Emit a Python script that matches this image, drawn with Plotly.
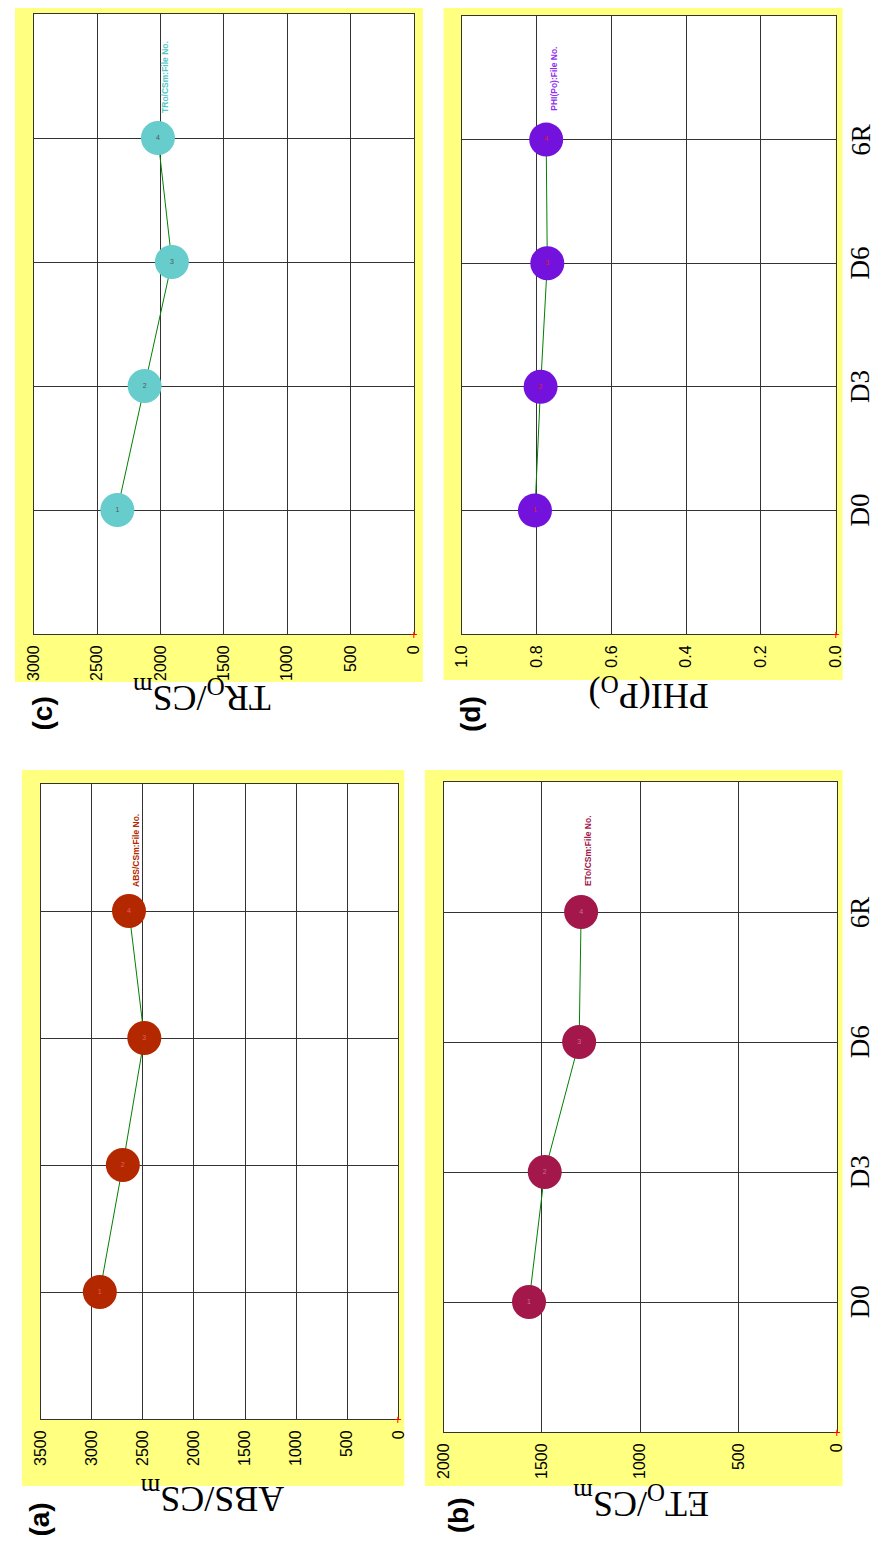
import plotly.graph_objects as go

# The page body has an 8px margin, so the figure is sized to fit inside it
OFF = 8
W, H = 886 - 2 * OFF, 1545 - 2 * OFF

# ---------------- data ----------------
categories = ["D0", "D3", "D6", "6R"]
file_no = ["1", "2", "3", "4"]

abs_csm = [2920, 2695, 2485, 2635]
eto_csm = [1565, 1485, 1310, 1300]
tro_csm = [2340, 2125, 1910, 2020]
phi_po = [0.805, 0.790, 0.772, 0.775]

abs_ticks = [0, 500, 1000, 1500, 2000, 2500, 3000, 3500]
eto_ticks = [0, 500, 1000, 1500, 2000]
tro_ticks = [0, 500, 1000, 1500, 2000, 2500, 3000]
phi_ticks = [0.0, 0.2, 0.4, 0.6, 0.8, 1.0]


def px(x):
    return (x - OFF) / W


def py(y):
    return 1 - (y - OFF) / H


SERIF = "Liberation Serif, Times New Roman, serif"
SANS = "Liberation Sans, Arial, sans-serif"

panels = [
    dict(key="a", vals=abs_csm, ticks=abs_ticks, vmax=3500, fmt="",
         color="#B42800", lcolor="#B42800", tcolor="#E06060",
         slabel="ABS/CSm:File No.", title="ABS/CS<sub>m</sub>",
         plot=(32, 397, 784, 1419), yellow=(13, 403, 770, 1486),
         title_pos=(207, 1497), letter_pos=(30, 1520), catlabels=False),
    dict(key="b", vals=eto_csm, ticks=eto_ticks, vmax=2000, fmt="",
         color="#A3174B", lcolor="#A3174B", tcolor="#D07090",
         slabel="ETo/CSm:File No.", title="ET<sub>O</sub>/CS<sub>m</sub>",
         plot=(443, 844, 782, 1432), yellow=(424, 850, 770, 1486),
         title_pos=(645, 1502), letter_pos=(458, 1515), catlabels=True),
    dict(key="c", vals=tro_csm, ticks=tro_ticks, vmax=3000, fmt="",
         color="#66CCCC", lcolor="#55C8C8", tcolor="#555555",
         slabel="TRo/CSm:File No.", title="TR<sub>O</sub>/CS<sub>m</sub>",
         plot=(25, 413, 14, 634), yellow=(6, 422, 0, 682),
         title_pos=(196, 695), letter_pos=(33, 714), catlabels=False),
    dict(key="d", vals=phi_po, ticks=phi_ticks, vmax=1.0, fmt=".1f",
         color="#7312DD", lcolor="#9030F0", tcolor="#E02020",
         slabel="PHI(Po):File No.", title="PHI(P<sub>O</sub>)",
         plot=(462, 843, 16, 634), yellow=(443, 850, 3, 680),
         title_pos=(652, 693), letter_pos=(470, 714), catlabels=True),
]

fig = go.Figure()
shapes = []
annotations = []

for i, p in enumerate(panels, start=1):
    sfx = "" if i == 1 else str(i)
    xa = f"x{sfx}"
    ya = f"y{sfx}"
    x0, x1, y0, y1 = p["plot"]

    fig.add_trace(go.Scatter(
        x=p["vals"], y=categories, xaxis=xa, yaxis=ya,
        mode="lines+markers+text",
        line=dict(color="#008000", width=1),
        marker=dict(color=p["color"], size=34, line=dict(width=0)),
        text=file_no, textposition="middle center",
        textfont=dict(size=7, color=p["tcolor"], family=SANS),
        showlegend=False, cliponaxis=False, hoverinfo="skip",
    ))

    fig.layout[f"xaxis{sfx}"] = dict(
        domain=[px(x0), px(x1)], anchor=ya,
        range=[p["vmax"], 0], tickvals=p["ticks"], tickformat=p["fmt"],
        tickangle=-90, tickfont=dict(family=SANS, size=16, color="black"),
        ticks="", ticklabelstandoff=4,
        showgrid=True, gridcolor="#333333", gridwidth=1,
        showline=True, mirror=True, linecolor="#333333", linewidth=1,
        zeroline=False, fixedrange=True,
    )
    fig.layout[f"yaxis{sfx}"] = dict(
        domain=[py(y1), py(y0)], anchor=xa,
        type="category", categoryarray=categories, categoryorder="array",
        range=[-1, 4], showticklabels=False, ticks="",
        showgrid=True, gridcolor="#333333", gridwidth=1,
        showline=True, mirror=True, linecolor="#333333", linewidth=1,
        zeroline=False, fixedrange=True,
    )

    yx0, yx1, yy0, yy1 = p["yellow"]
    shapes.append(dict(type="rect", xref="paper", yref="paper",
                       x0=px(yx0), x1=px(yx1), y0=py(yy1), y1=py(yy0),
                       fillcolor="#FFFF80", line=dict(width=0), layer="below"))
    shapes.append(dict(type="rect", xref="paper", yref="paper",
                       x0=px(x0), x1=px(x1), y0=py(y1), y1=py(y0),
                       fillcolor="white", line=dict(width=0), layer="below"))

    # category labels at the right edge of the row
    if p["catlabels"]:
        for c in categories:
            annotations.append(dict(
                x=px(868), y=c, xref="paper", yref=ya,
                text=c, showarrow=False, textangle=-90,
                xanchor="center", yanchor="middle",
                font=dict(family=SERIF, size=27, color="black"),
            ))

    # series label next to last point
    annotations.append(dict(
        x=p["vals"][-1], y=categories[-1], xref=xa, yref=ya,
        text=f"<b>{p['slabel']}</b>", showarrow=False, textangle=-90,
        xshift=7, yshift=61, xanchor="center", yanchor="middle",
        font=dict(family=SANS, size=8.5, color=p["lcolor"]),
    ))
    # red origin cross
    annotations.append(dict(
        x=0, y=0, xref=xa, yref=f"{ya} domain",
        text="+", showarrow=False, xanchor="center", yanchor="middle",
        font=dict(family=SANS, size=13, color="red"),
    ))
    # axis title (upside down)
    tx, ty = p["title_pos"]
    annotations.append(dict(
        x=px(tx), y=py(ty), xref="paper", yref="paper",
        text=p["title"], showarrow=False, textangle=180,
        xanchor="center", yanchor="middle",
        font=dict(family=SERIF, size=36, color="black"),
    ))
    # panel letter
    lx, ly = p["letter_pos"]
    annotations.append(dict(
        x=px(lx), y=py(ly), xref="paper", yref="paper",
        text=f"<b>({p['key']})</b>", showarrow=False, textangle=-90,
        xanchor="center", yanchor="middle",
        font=dict(family=SANS, size=28, color="black"),
    ))

fig.update_layout(
    width=W, height=H,
    margin=dict(l=0, r=0, t=0, b=0),
    paper_bgcolor="white", plot_bgcolor="white",
    shapes=shapes, annotations=annotations,
    showlegend=False,
)

fig.write_html("out.html")
